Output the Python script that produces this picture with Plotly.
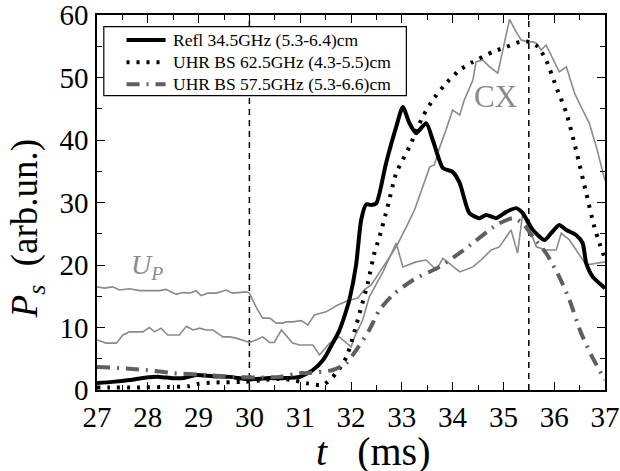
import plotly.graph_objects as go

# Refl 34.5GHz (solid black)
refl_t = [27.0, 27.3, 27.64, 27.97, 28.23, 28.49, 28.69, 28.95, 29.28, 29.61, 30.0, 30.33, 30.66, 30.99,
          31.25, 31.45, 31.64, 31.77, 31.91, 31.97, 32.1, 32.2, 32.3, 32.4, 32.5, 32.69, 32.89, 33.02, 33.15,
          33.28, 33.48, 33.61, 33.81, 34.0, 34.14, 34.33, 34.53, 34.66, 34.86, 35.06, 35.25, 35.38, 35.58,
          35.81, 35.94, 36.1, 36.24, 36.43, 36.56, 36.63, 36.76, 37.0]
refl_v = [1.1, 1.3, 1.6, 2.0, 2.1, 1.9, 1.9, 2.4, 2.2, 2.1, 1.7, 1.9, 1.9, 2.1,
          3.2, 4.8, 7.5, 9.5, 12.8, 14.5, 20.0, 27.2, 29.7, 29.6, 29.9, 36.3, 42.1, 45.3, 42.7,
          41.1, 42.7, 40.0, 35.5, 34.9, 33.1, 28.3, 27.5, 28.0, 27.5, 28.5, 29.1, 28.3, 25.6,
          24.0, 25.1, 26.4, 25.6, 24.8, 23.5, 20.3, 18.1, 16.3]

# UHR BS 62.5GHz (dotted black)
uhr62_t = [27.0, 27.25, 27.8, 28.4, 28.8, 29.0, 29.3, 29.9, 30.3, 30.6, 30.9, 31.12, 31.45, 31.71, 31.91,
           32.17, 32.33, 32.46, 32.56, 32.72, 32.89, 33.15, 33.41, 33.61, 33.84, 34.14, 34.4, 34.79, 35.06,
           35.32, 35.51, 35.68, 35.84, 36.04, 36.24, 36.43, 36.63, 36.79, 36.89, 37.0]
uhr62_v = [0.4, 0.4, 0.4, 0.5, 0.6, 1.0, 1.2, 1.3, 1.6, 1.8, 1.5, 1.1, 0.8, 2.7, 5.3,
           12.3, 17.1, 21.9, 24.5, 29.3, 34.7, 38.9, 43.7, 46.4, 48.8, 51.2, 52.5, 54.1, 54.9,
           55.7, 55.7, 54.9, 52.8, 48.5, 44.3, 38.4, 31.5, 26.1, 23.5, 21.0]

# UHR BS 57.5GHz (dash-dot grey)
uhr57_t = [27.0, 27.44, 27.97, 28.49, 29.15, 29.67, 30.13, 30.59, 30.99, 31.12, 31.64, 31.91, 32.13, 32.36,
           32.56, 32.82, 33.22, 33.74, 34.27, 34.86, 35.19, 35.38, 35.58, 35.84, 36.1, 36.3, 36.53, 36.76, 37.0]
uhr57_v = [3.7, 3.5, 3.2, 2.7, 2.4, 2.1, 2.0, 2.1, 2.7, 2.7, 3.2, 4.3, 6.7, 9.6,
           12.8, 15.2, 17.6, 19.7, 22.7, 26.4, 27.5, 26.7, 24.5, 21.9, 18.1, 14.4, 9.1, 5.1, 1.6]

# CX signal (thin grey, upper trace)
cx_t = [27.0, 27.15, 27.31, 27.44, 27.64, 27.84, 28.23, 28.36, 28.56, 28.69, 28.82, 28.95, 29.05, 29.18,
        29.35, 29.54, 29.67, 29.81, 29.94, 30.0, 30.13, 30.26, 30.4, 30.53, 30.66, 30.72, 30.85, 31.02,
        31.15, 31.28, 31.51, 31.74, 31.91, 32.13, 32.27, 32.4, 32.63, 32.89, 33.09, 33.25, 33.32, 33.55,
        33.64, 33.74, 33.87, 34.0, 34.14, 34.23, 34.4, 34.46, 34.59, 34.73, 34.89, 34.99, 35.12, 35.25,
        35.35, 35.48, 35.58, 35.65, 35.74, 35.84, 35.97, 36.1, 36.24, 36.4, 36.56, 36.69, 36.83, 37.0]
cx_v = [16.5, 16.3, 16.5, 16.0, 16.2, 15.9, 15.9, 16.1, 15.3, 15.6, 15.5, 15.9, 15.1, 15.5,
        15.5, 16.0, 15.5, 15.6, 15.7, 15.5, 13.3, 11.5, 11.5, 10.7, 10.7, 10.9, 10.9, 11.1,
        10.4, 12.0, 12.5, 13.6, 14.2, 14.7, 16.1, 16.8, 19.7, 22.9, 26.1, 28.8, 30.4, 35.7,
        36.0, 38.7, 41.6, 44.8, 44.0, 46.4, 49.6, 52.5, 52.8, 51.7, 50.7, 54.4, 59.3, 57.3,
        56.0, 55.7, 55.7, 55.5, 54.4, 55.2, 53.1, 50.9, 51.7, 47.5, 44.8, 42.7, 38.9, 33.5]

# U_P signal (thin grey, lower trace)
up_t = [27.0, 27.18, 27.38, 27.51, 27.64, 27.9, 28.03, 28.13, 28.26, 28.39, 28.62, 28.76, 28.89, 29.02,
        29.15, 29.28, 29.48, 29.61, 29.74, 30.0, 30.13, 30.26, 30.4, 30.49, 30.63, 30.76, 30.85, 30.99,
        31.25, 31.38, 31.58, 31.77, 32.0, 32.07, 32.23, 32.36, 32.63, 32.89, 33.02, 33.28, 33.48, 33.68,
        33.81, 34.14, 34.4, 34.56, 34.76, 34.92, 35.15, 35.28, 35.38, 35.65, 35.84, 36.04, 36.14, 36.3,
        36.43, 36.63, 37.0]
up_v = [8.0, 7.5, 7.5, 8.8, 9.3, 9.3, 10.0, 9.3, 9.9, 8.8, 8.8, 10.2, 9.6, 9.9,
        9.6, 9.6, 8.5, 8.5, 8.3, 7.6, 8.0, 8.5, 7.6, 7.6, 9.6, 8.3, 7.5, 7.2,
        7.2, 5.6, 7.5, 8.5, 6.9, 8.5, 11.2, 14.9, 18.9, 23.5, 19.7, 20.5, 20.8, 19.2,
        21.1, 18.9, 19.7, 20.8, 22.4, 22.9, 25.6, 21.9, 28.3, 22.9, 22.4, 22.4, 25.1, 24.0,
        22.4, 20.0, 20.5]

vlines_t = [30.0, 35.5]

legend_names = ["Refl 34.5GHz (5.3-6.4)cm", "UHR BS 62.5GHz (4.3-5.5)cm", "UHR BS 57.5GHz (5.3-6.6)cm"]

x_ticks = list(range(27, 38))
y_ticks = [0, 10, 20, 30, 40, 50, 60]

FONT = "Liberation Serif, Times New Roman, serif"
GREY = "#8a8a8a"
DGREY = "#5f5f5f"

styles = [dict(color="black", width=4),
          dict(color="black", width=4, dash="3px,7px"),
          dict(color=DGREY, width=4, dash="13px,7px,2px,7px")]

fig = go.Figure()

for vt in vlines_t:
    fig.add_trace(go.Scatter(x=[vt, vt], y=[0, 60], mode="lines", showlegend=False,
                             line=dict(color="black", width=1.5, dash="6px,5px")))

fig.add_trace(go.Scatter(x=cx_t, y=cx_v, mode="lines", showlegend=False, name="CX",
                         line=dict(color=GREY, width=1.6)))
fig.add_trace(go.Scatter(x=up_t, y=up_v, mode="lines", showlegend=False, name="U_P",
                         line=dict(color=GREY, width=1.6)))

for (tt, vv), nm, st in zip([(refl_t, refl_v), (uhr62_t, uhr62_v), (uhr57_t, uhr57_v)], legend_names, styles):
    fig.add_trace(go.Scatter(x=tt, y=vv, mode="lines", name=nm, showlegend=False,
                             line=dict(shape="spline", smoothing=0.6, **st)))

axis_common = dict(showline=True, linecolor="black", linewidth=1.5, mirror="ticks",
                   ticks="inside", ticklen=8, tickwidth=1.2, tickcolor="black",
                   showgrid=False, zeroline=False, automargin=False, ticklabeloverflow="allow",
                   tickfont=dict(family=FONT, size=29, color="black"))

fig.update_xaxes(range=[27, 37], tickvals=x_ticks, ticktext=[str(v) for v in x_ticks],
                 minor=dict(dtick=0.5, ticks="inside", ticklen=5, tickcolor="black", tickwidth=1.2),
                 ticklabelstandoff=0, **axis_common)
fig.update_yaxes(range=[0, 60], tickvals=y_ticks, ticktext=[str(v) for v in y_ticks],
                 minor=dict(dtick=5, ticks="inside", ticklen=5, tickcolor="black", tickwidth=1.2),
                 ticklabelstandoff=1, **axis_common)

# axis titles
fig.add_annotation(xref="paper", yref="paper", x=-0.137, y=0.432, textangle=-90,
                   text="<i>P</i><sub><i>s</i></sub>&nbsp; (arb.un.)", showarrow=False,
                   font=dict(family=FONT, size=37, color="black"), xanchor="center", yanchor="middle")
fig.add_annotation(xref="paper", yref="paper", x=0.544, y=-0.165,
                   text="<i>t</i>&nbsp;&nbsp;&nbsp;(ms)", showarrow=False,
                   font=dict(family=FONT, size=40, color="black"), xanchor="center", yanchor="middle")

# in-plot labels
fig.add_annotation(x=34.84, y=47.0, text="CX", showarrow=False,
                   font=dict(family=FONT, size=31, color=GREY))
fig.add_annotation(x=27.63, y=19.7, text="<i>U</i><sub><i>P</i></sub>", showarrow=False, xanchor="left",
                   font=dict(family=FONT, size=28, color=GREY))

# legend: white frame above traces, key samples and labels
fig.add_shape(type="rect", xref="paper", yref="paper", x0=0.0134, x1=0.609, y0=0.7848, y1=0.9688,
              layer="above", fillcolor="white", line=dict(color="black", width=1.2))
row_y = [0.9333, 0.8739, 0.8152]
for ry, nm, st in zip(row_y, legend_names, styles):
    fig.add_shape(type="line", xref="paper", yref="paper", x0=0.0581, x1=0.135, y0=ry, y1=ry,
                  layer="above", line=st)
    fig.add_annotation(xref="paper", yref="paper", x=0.1448, y=ry, text=nm, showarrow=False,
                       xanchor="left", yanchor="middle",
                       font=dict(family=FONT, size=17.5, color="black"))

fig.update_layout(
    width=620, height=471,
    margin=dict(l=97, r=15, t=15, b=81),
    plot_bgcolor="white", paper_bgcolor="white",
    showlegend=False,
)

fig.write_html("out.html", config={"displayModeBar": False},
               post_script="document.body.style.margin='0';")
